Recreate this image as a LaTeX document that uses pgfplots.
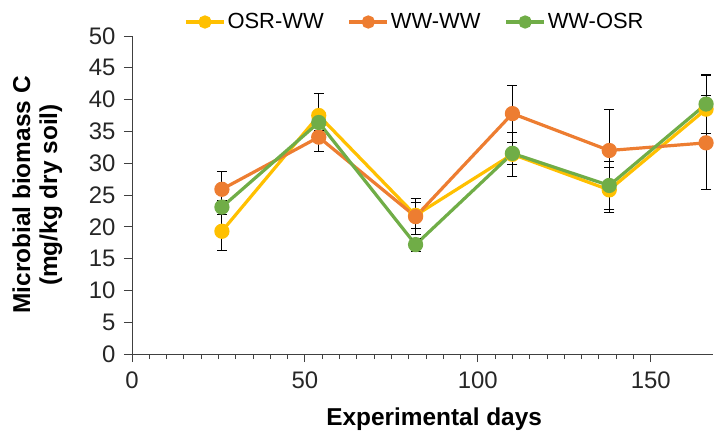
\documentclass[border=0pt]{standalone}
\usepackage{fontspec}
\setmainfont{Liberation Sans}
\usepackage{pgfplots}
\pgfplotsset{compat=1.18}
\definecolor{cyel}{HTML}{FFC000}
\definecolor{corg}{HTML}{ED7D31}
\definecolor{cgrn}{HTML}{70AD47}
\definecolor{caxis}{HTML}{404040}
\begin{document}
\begin{tikzpicture}
\begin{axis}[
  scale only axis,
  width=581bp, height=318bp,
  at={(0,0)}, anchor=south west,
  xmin=0, xmax=168, ymin=0, ymax=50,
  axis lines*=left,
  axis line style={caxis, line width=0.9bp},
  every tick/.style={caxis, line width=0.9bp},
  tick align=outside,
  major tick length=8bp,
  minor tick length=5bp,
  xtick={0,50,100,150},
  minor x tick num=9,
  ytick={0,5,...,50},
  /pgf/number format/assume math mode=true,
  tick label style={font=\fontsize{24}{28}\selectfont, text=black!85},
  yticklabel style={xshift=-5bp},
  xticklabel style={yshift=-6bp},
  xlabel={\textbf{Experimental days}},
  ylabel={\textbf{Microbial biomass C}\\\textbf{(mg/kg dry soil)}},
  xlabel style={font=\fontsize{24.5}{28}\selectfont, at={(axis description cs:0.52,-0.225)}, anchor=base},
  ylabel style={font=\fontsize{24.5}{27}\selectfont, align=center, at={(axis description cs:-0.163,0.5)}, anchor=center, rotate=0},
  legend columns=3,
  legend style={draw=none, fill=none, at={(axis description cs:0.487,1.044)}, anchor=center,
    font=\fontsize{22}{26}\selectfont,
    /tikz/every even column/.append style={column sep=22bp},
    inner sep=0pt},
  legend image code/.code={\draw[mark repeat=2,mark phase=2,mark size=5bp] plot coordinates {(0bp,0bp)(19bp,0bp)(38bp,0bp)};},
  error bars/y dir=both, error bars/y explicit,
  error bars/error bar style={black, line width=0.9bp, solid},
  error bars/error mark options={rotate=90, mark size=5bp, black, line width=0.9bp},
  clip=false,
]
\addplot[cyel, line width=3.2bp, mark=*, mark size=6bp, mark options={fill=cyel, draw=cyel}]
 coordinates {(26,19.3) +- (0,3.0) (54,37.5) +- (0,3.4) (82,21.8) +- (0,2.0) (110,31.4) +- (0,3.5) (138,25.8) +- (0,3.6) (166,38.5) +- (0,5.3)};
\addlegendentry{OSR-WW}
\addplot[corg, line width=3.2bp, mark=*, mark size=6bp, mark options={fill=corg, draw=corg}]
 coordinates {(26,25.9) +- (0,2.8) (54,34.1) +- (0,2.2) (82,21.6) +- (0,2.8) (110,37.8) +- (0,4.5) (138,32.0) +- (0,6.4) (166,33.2) +- (0,7.4)};
\addlegendentry{WW-WW}
\addplot[cgrn, line width=3.2bp, mark=*, mark size=6bp, mark options={fill=cgrn, draw=cgrn}]
 coordinates {(26,23.1) +- (0,1.1) (54,36.4) +- (0,1.3) (82,17.2) +- (0,1.0) (110,31.55) +- (0,1.75) (138,26.5) +- (0,3.8) (166,39.3) +- (0,4.7)};
\addlegendentry{WW-OSR}
\end{axis}
\pgfresetboundingbox
\path[use as bounding box] (-132bp,-78bp) rectangle (582bp,354bp);
\end{tikzpicture}
\end{document}
